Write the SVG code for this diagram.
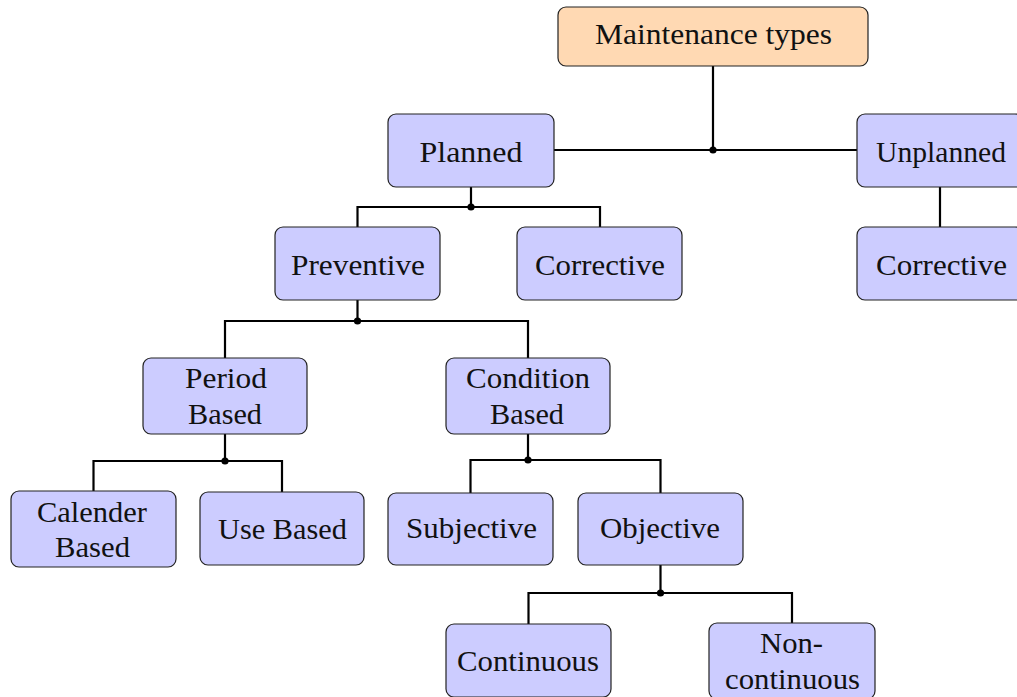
<svg xmlns="http://www.w3.org/2000/svg" width="1017" height="697" viewBox="0 0 1017 697">
  <style>
    .box { fill: #CCCCFF; stroke: #222; stroke-width: 1.2; }
    .root { fill: #FFD9B3; stroke: #222; stroke-width: 1.2; }
    .lbl { font-family: "Liberation Serif", "DejaVu Serif", serif; font-size: 29px; fill: #111; text-anchor: middle; }
    .wire { fill: none; stroke: #000; stroke-width: 2.2; }
    .dot { fill: #000; }
  </style>
  <rect width="1017" height="697" fill="#fff"/>

  <!-- connectors -->
  <g id="connectors">
    <path class="wire" d="M713 66 V150 M554 150 H857"/>
    <circle class="dot" cx="713" cy="150" r="3.6"/>
    <path class="wire" d="M471 187 V207 M357.5 227 V207 H600 V227"/>
    <circle class="dot" cx="471" cy="207" r="3.6"/>
    <path class="wire" d="M940 187 V227"/>
    <path class="wire" d="M357.5 300 V321 M225 358 V321 H528 V358"/>
    <circle class="dot" cx="357.5" cy="321" r="3.6"/>
    <path class="wire" d="M225 434 V461 M93.5 491 V461 H282 V492"/>
    <circle class="dot" cx="225" cy="461" r="3.6"/>
    <path class="wire" d="M528 434 V460 M470.5 493 V460 H660.5 V493"/>
    <circle class="dot" cx="528" cy="460" r="3.6"/>
    <path class="wire" d="M660.5 565 V593 M528.5 624 V593 H792 V623"/>
    <circle class="dot" cx="660.5" cy="593" r="3.6"/>
  </g>

  <!-- nodes -->
  <g id="maintenance-types">
    <rect class="root" x="558" y="7" width="310" height="59" rx="8"/>
    <text class="lbl" x="713.5" y="44" textLength="237" lengthAdjust="spacingAndGlyphs">Maintenance types</text>
  </g>
  <g id="planned">
    <rect class="box" x="388" y="114" width="166" height="73" rx="8"/>
    <text class="lbl" x="471" y="162" textLength="103" lengthAdjust="spacingAndGlyphs">Planned</text>
  </g>
  <g id="unplanned">
    <rect class="box" x="857" y="114" width="166" height="73" rx="8"/>
    <text class="lbl" x="941" y="162" textLength="130" lengthAdjust="spacingAndGlyphs">Unplanned</text>
  </g>
  <g id="preventive">
    <rect class="box" x="275" y="227" width="165" height="73" rx="8"/>
    <text class="lbl" x="358" y="275" textLength="134" lengthAdjust="spacingAndGlyphs">Preventive</text>
  </g>
  <g id="corrective-planned">
    <rect class="box" x="517" y="227" width="165" height="73" rx="8"/>
    <text class="lbl" x="600" y="275" textLength="130" lengthAdjust="spacingAndGlyphs">Corrective</text>
  </g>
  <g id="corrective-unplanned">
    <rect class="box" x="857" y="227" width="166" height="73" rx="8"/>
    <text class="lbl" x="941.5" y="275" textLength="131" lengthAdjust="spacingAndGlyphs">Corrective</text>
  </g>
  <g id="period-based">
    <rect class="box" x="143" y="358" width="164" height="76" rx="8"/>
    <text class="lbl" x="226" y="388" textLength="82" lengthAdjust="spacingAndGlyphs">Period</text>
    <text class="lbl" x="225" y="424" textLength="74" lengthAdjust="spacingAndGlyphs">Based</text>
  </g>
  <g id="condition-based">
    <rect class="box" x="446" y="358" width="164" height="76" rx="8"/>
    <text class="lbl" x="528" y="388" textLength="124" lengthAdjust="spacingAndGlyphs">Condition</text>
    <text class="lbl" x="527" y="424" textLength="74" lengthAdjust="spacingAndGlyphs">Based</text>
  </g>
  <g id="calender-based">
    <rect class="box" x="11" y="491" width="165" height="76" rx="8"/>
    <text class="lbl" x="92" y="522" textLength="110" lengthAdjust="spacingAndGlyphs">Calender</text>
    <text class="lbl" x="92.5" y="557" textLength="75" lengthAdjust="spacingAndGlyphs">Based</text>
  </g>
  <g id="use-based">
    <rect class="box" x="200" y="492" width="164" height="73" rx="8"/>
    <text class="lbl" x="282.5" y="539" textLength="129" lengthAdjust="spacingAndGlyphs">Use Based</text>
  </g>
  <g id="subjective">
    <rect class="box" x="388" y="493" width="165" height="72" rx="8"/>
    <text class="lbl" x="471.5" y="538" textLength="131" lengthAdjust="spacingAndGlyphs">Subjective</text>
  </g>
  <g id="objective">
    <rect class="box" x="578" y="493" width="165" height="72" rx="8"/>
    <text class="lbl" x="660" y="538" textLength="120" lengthAdjust="spacingAndGlyphs">Objective</text>
  </g>
  <g id="continuous">
    <rect class="box" x="446" y="624" width="165" height="73" rx="8"/>
    <text class="lbl" x="528" y="671" textLength="142" lengthAdjust="spacingAndGlyphs">Continuous</text>
  </g>
  <g id="non-continuous">
    <rect class="box" x="709" y="623" width="166" height="76" rx="8"/>
    <text class="lbl" x="791.5" y="653" textLength="63" lengthAdjust="spacingAndGlyphs">Non-</text>
    <text class="lbl" x="792.5" y="689" textLength="135" lengthAdjust="spacingAndGlyphs">continuous</text>
  </g>
</svg>
